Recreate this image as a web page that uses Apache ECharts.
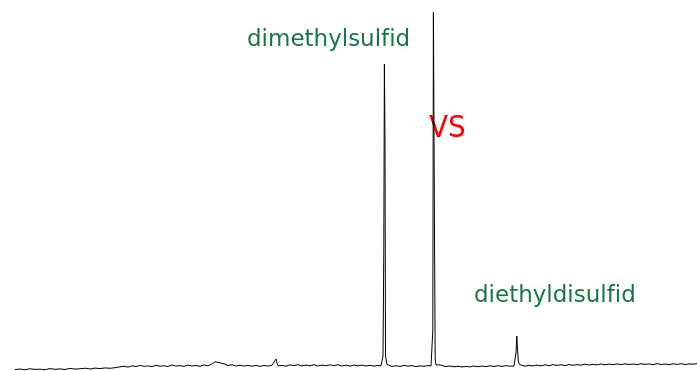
<!DOCTYPE html>
<html>
<head>
<meta charset="utf-8">
<script src="https://cdn.jsdelivr.net/npm/echarts@6/dist/echarts.min.js"></script>
<style>html,body{margin:0;padding:0;background:#fff;}#c{width:697px;height:371px;}</style>
</head>
<body>
<div id="c"></div>
<script>
// retention position (scan units) and detector signal
var scans = [
  15,20,25,30,35,40,45,50,55,60,65,70,75,80,85,90,95,100,105,110,115,120,
  124,128,132,136,140,144,148,152,156,160,164,168,172,176,180,184,188,192,196,200,204,208,211,213,215,217,219,221,224,228,232,236,240,244,248,252,256,260,264,268,272,274,276,277,278,282,286,290,294,298,302,306,310,314,318,322,326,330,334,338,342,346,350,354,358,362,366,370,374,378,381,
  382,383,383.8,384.4,385,385.5,386.5,387,
  389,392,396,400,404,408,412,416,420,424,428,431,
  432,432.8,433.4,434,434.6,435.2,436,437,
  439,442,446,450,454,458,462,466,470,474,478,482,486,490,494,498,502,506,510,514,
  515,516,516.8,517.5,518.3,519.5,
  521,525,529,533,537,541,545,549,553,557,561,565,569,573,577,581,585,589,593,597,601,605,609,613,617,621,625,629,633,637,641,645,649,653,657,661,665,669,673,677,681,685,689,693,697
];
var signal = [
  1.5,2,1.2,2.3,1.6,1.8,1.3,2.4,1.7,2.1,1.5,2.6,1.9,2.2,2.8,2.0,2.9,2.4,3.1,2.7,3.3,4.2,
  4.8,3.9,5.2,4.4,5.6,4.6,5.1,4.3,5.8,4.7,5.3,4.5,6.0,4.9,5.4,4.6,5.9,5.0,5.5,4.7,6.1,5.2,6.5,8.5,9.2,7.8,8.4,6.6,7.2,5.4,6.3,5.0,5.8,4.9,5.6,4.8,5.7,4.6,5.5,4.9,5.8,6.2,12.0,8.0,5.2,5.6,4.8,6.1,5.3,6.4,5.1,6.0,5.2,6.3,5.0,5.9,5.3,6.2,5.4,6.3,5.0,5.8,4.9,6.0,5.2,5.9,5.0,5.7,4.9,5.5,5.2,
  7,15,120,307,230,15,9,6.5,
  5.4,4.6,5.3,4.5,5.6,4.8,5.4,4.4,5.2,4.6,5.5,5.0,
  6,40,359,359,120,12,6,8,
  6.2,5.5,4.4,5.0,4.2,4.8,4.0,4.6,4.1,5.0,4.3,4.9,4.4,5.2,4.5,5.3,4.6,5.4,4.8,5.0,
  6,18,35,22,10,6.5,
  5.6,4.8,5.7,5.0,6.0,5.1,6.2,5.3,6.4,5.6,6.2,5.4,6.5,5.7,6.3,5.9,6.8,6.0,6.6,6.1,7.0,6.2,6.9,6.3,7.1,6.4,7.2,6.5,7.0,6.4,7.3,6.6,7.1,6.3,7.4,6.5,7.0,6.4,7.2,6.6,7.3,6.5,7.1,6.8,7.4
];
// \u200C keeps "f" and "i" as separate letters (no ligature), as in the original
var labels = ["dimethylsulf\u200Cid", "VS", "diethyldisulf\u200Cid"];

var pts = scans.map(function (s, i) { return [s, signal[i]]; });
var chart = echarts.init(document.getElementById('c'), null, {renderer: 'canvas'});
var green = '#17773f';
chart.setOption({
  animation: false,
  backgroundColor: '#ffffff',
  grid: {left: 0, right: 0, top: 0, bottom: 0},
  xAxis: {type: 'value', min: 0, max: 697, show: false},
  yAxis: {type: 'value', min: 0, max: 371, show: false},
  series: [{
    type: 'line',
    data: pts,
    showSymbol: false,
    lineStyle: {color: '#000', width: 1},
    silent: true
  }],
  graphic: [
    {type: 'text', left: 247, top: 29, style: {text: labels[0], fill: green, font: '23px "DejaVu Sans"'}},
    {type: 'text', left: 429, top: 113, style: {text: labels[1], fill: '#ff0000', font: '31px "DejaVu Sans Condensed"'}},
    {type: 'text', left: 474, top: 285, style: {text: labels[2], fill: green, font: '23px "DejaVu Sans"'}}
  ]
});
</script>
</body>
</html>
